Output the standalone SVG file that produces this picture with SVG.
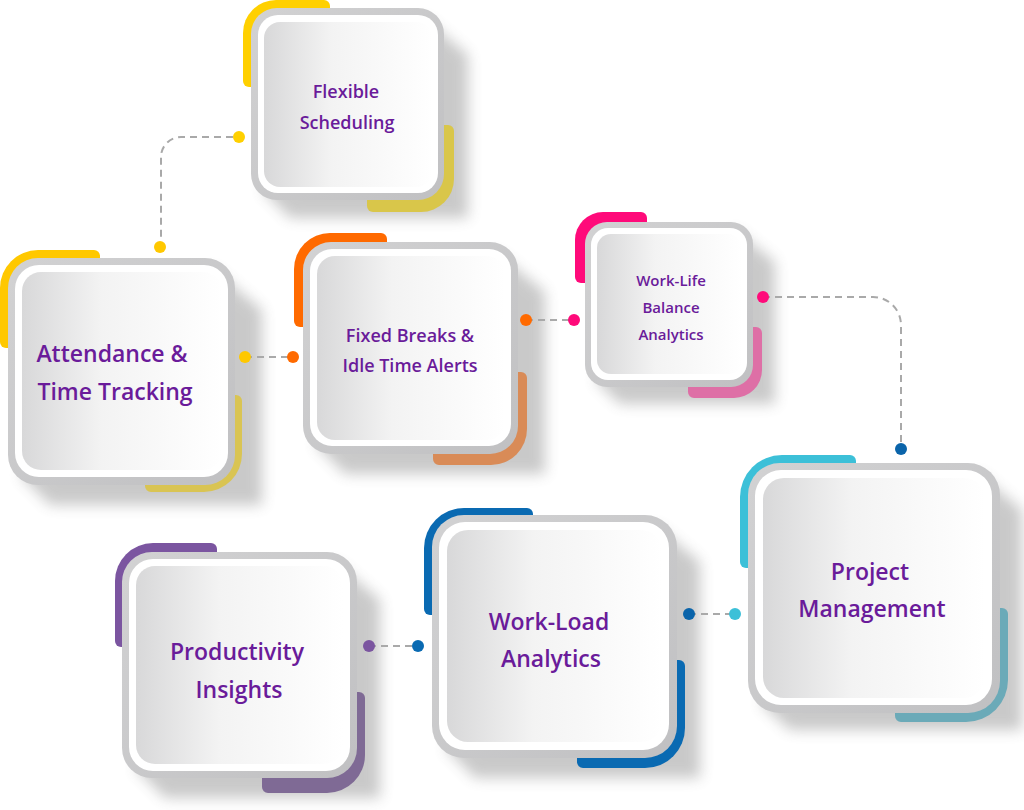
<svg xmlns="http://www.w3.org/2000/svg" width="1024" height="810" viewBox="0 0 1024 810">
<defs>
<linearGradient id="inner" x1="0" y1="0" x2="1" y2="0">
<stop offset="0" stop-color="#d8d8d9"/>
<stop offset="0.4" stop-color="#f3f3f3"/>
<stop offset="1" stop-color="#ffffff"/>
</linearGradient>
<linearGradient id="frameg" x1="0" y1="0" x2="1" y2="1">
<stop offset="0" stop-color="#d2d2d3"/>
<stop offset="1" stop-color="#c0c0c2"/>
</linearGradient>
<filter id="blur" x="-30%" y="-30%" width="160%" height="160%">
<feGaussianBlur stdDeviation="7"/>
</filter>
</defs>
<style>
.sh{fill:#5a5a5a;opacity:.32;filter:url(#blur)}
.fr{fill:url(#frameg)}
.wr{fill:#ffffff}
.in{fill:url(#inner)}
.t{font-family:"Open Sans","Noto Sans",sans-serif;font-weight:600;fill:#6a1b9a;text-anchor:middle}
.cn{fill:none;stroke:#a9a9a9;stroke-width:2;stroke-dasharray:7 5}
</style>
<rect width="1024" height="810" fill="#ffffff"/>

<!-- Node 1: Flexible Scheduling -->
<g id="node-flexible">
<path class="sh" d="M424 18 L468 55 L468 218 L290 218 L262 190 Z"/>
<path fill="#ffd000" d="M243 33 A33 33 0 0 1 276 0 H324 A6 6 0 0 1 330 6 V81 A6 6 0 0 1 324 87 H249 A6 6 0 0 1 243 81 Z"/>
<path fill="#d9c64a" d="M373 125 H448 A6 6 0 0 1 454 131 V179 A33 33 0 0 1 421 212 H373 A6 6 0 0 1 367 206 V131 A6 6 0 0 1 373 125 Z"/>
<rect class="fr" x="251" y="8" width="193" height="192" rx="26"/>
<rect class="wr" x="258" y="15" width="180" height="178" rx="20"/>
<rect class="in" x="264" y="22" width="168" height="165" rx="16"/>
<text class="t" font-size="18"><tspan x="346" y="98">Flexible</tspan><tspan x="347" y="129">Scheduling</tspan></text>
</g>

<!-- Node 2: Attendance -->
<g id="node-attendance">
<path class="sh" d="M212 268 L262 310 L262 505 L50 505 L20 475 Z"/>
<path fill="#ffc800" d="M0 288 A38 38 0 0 1 38 250 H94 A6 6 0 0 1 100 256 V342 A6 6 0 0 1 94 348 H6 A6 6 0 0 1 0 342 Z"/>
<path fill="#d9c453" d="M151 395 H236 A6 6 0 0 1 242 401 V454 A38 38 0 0 1 204 492 H151 A6 6 0 0 1 145 486 V401 A6 6 0 0 1 151 395 Z"/>
<rect class="fr" x="8" y="258" width="227" height="227" rx="30"/>
<rect class="wr" x="15" y="265" width="213" height="212" rx="24"/>
<rect class="in" x="22" y="272" width="200" height="198" rx="19"/>
<text class="t" font-size="23"><tspan x="112" y="362">Attendance &amp;</tspan><tspan x="115" y="400">Time Tracking</tspan></text>
</g>

<!-- Node 3: Fixed Breaks -->
<g id="node-fixed">
<path class="sh" d="M496 252 L545 292 L545 474 L345 474 L315 444 Z"/>
<path fill="#ff6a00" d="M294 269 A36 36 0 0 1 330 233 H381 A6 6 0 0 1 387 239 V321 A6 6 0 0 1 381 327 H300 A6 6 0 0 1 294 321 Z"/>
<path fill="#d98b57" d="M439 372 H521 A6 6 0 0 1 527 378 V429 A36 36 0 0 1 491 465 H439 A6 6 0 0 1 433 459 V378 A6 6 0 0 1 439 372 Z"/>
<rect class="fr" x="303" y="242" width="215" height="212" rx="28"/>
<rect class="wr" x="310" y="249" width="201" height="197" rx="22"/>
<rect class="in" x="317" y="256" width="188" height="184" rx="18"/>
<text class="t" font-size="18"><tspan x="410" y="342">Fixed Breaks &amp;</tspan><tspan x="410" y="372">Idle Time Alerts</tspan></text>
</g>

<!-- Node 4: Work-Life -->
<g id="node-worklife">
<path class="sh" d="M735 230 L775 262 L775 404 L620 404 L595 380 Z"/>
<path fill="#ff0a7a" d="M575 240 A28 28 0 0 1 603 212 H641 A6 6 0 0 1 647 218 V277 A6 6 0 0 1 641 283 H581 A6 6 0 0 1 575 277 Z"/>
<path fill="#de6fa6" d="M694 327 H756 A6 6 0 0 1 762 333 V370 A28 28 0 0 1 734 398 H694 A6 6 0 0 1 688 392 V333 A6 6 0 0 1 694 327 Z"/>
<rect class="fr" x="585" y="222" width="168" height="165" rx="22"/>
<rect class="wr" x="591" y="228" width="156" height="152" rx="17"/>
<rect class="in" x="597" y="234" width="145" height="140" rx="14"/>
<text class="t" font-size="15"><tspan x="671" y="286">Work-Life</tspan><tspan x="671" y="313">Balance</tspan><tspan x="671" y="340">Analytics</tspan></text>
</g>

<!-- Node 5: Project Management -->
<g id="node-project">
<path class="sh" d="M978 473 L1022 510 L1022 730 L790 730 L760 703 Z"/>
<path fill="#3cc0d8" d="M740 497 A42 42 0 0 1 782 455 H850 A6 6 0 0 1 856 461 V562 A6 6 0 0 1 850 568 H746 A6 6 0 0 1 740 562 Z"/>
<path fill="#6baab8" d="M901 608 H1002 A6 6 0 0 1 1008 614 V680 A42 42 0 0 1 966 722 H901 A6 6 0 0 1 895 716 V614 A6 6 0 0 1 901 608 Z"/>
<rect class="fr" x="748" y="463" width="252" height="250" rx="32"/>
<rect class="wr" x="755" y="470" width="237" height="235" rx="26"/>
<rect class="in" x="763" y="478" width="222" height="220" rx="21"/>
<text class="t" font-size="23"><tspan x="870" y="580">Project</tspan><tspan x="872" y="617">Management</tspan></text>
</g>

<!-- Node 6: Work-Load -->
<g id="node-workload">
<path class="sh" d="M655 525 L700 562 L700 778 L475 778 L445 748 Z"/>
<path fill="#0a6ab2" d="M424 548 A40 40 0 0 1 464 508 H527 A6 6 0 0 1 533 514 V609 A6 6 0 0 1 527 615 H430 A6 6 0 0 1 424 609 Z"/>
<path fill="#0a6ab2" d="M583 660 H679 A6 6 0 0 1 685 666 V728 A40 40 0 0 1 645 768 H583 A6 6 0 0 1 577 762 V666 A6 6 0 0 1 583 660 Z"/>
<rect class="fr" x="432" y="515" width="245" height="243" rx="32"/>
<rect class="wr" x="439" y="522" width="230" height="228" rx="26"/>
<rect class="in" x="447" y="530" width="215" height="212" rx="21"/>
<text class="t" font-size="23"><tspan x="549" y="630">Work-Load</tspan><tspan x="551" y="667">Analytics</tspan></text>
</g>

<!-- Node 7: Productivity -->
<g id="node-productivity">
<path class="sh" d="M335 562 L380 600 L380 798 L165 798 L135 768 Z"/>
<path fill="#7b55a0" d="M115 581 A38 38 0 0 1 153 543 H211 A6 6 0 0 1 217 549 V641 A6 6 0 0 1 211 647 H121 A6 6 0 0 1 115 641 Z"/>
<path fill="#7f6a95" d="M268 692 H359 A6 6 0 0 1 365 698 V755 A38 38 0 0 1 327 793 H268 A6 6 0 0 1 262 787 V698 A6 6 0 0 1 268 692 Z"/>
<rect class="fr" x="122" y="552" width="235" height="226" rx="30"/>
<rect class="wr" x="129" y="559" width="221" height="212" rx="24"/>
<rect class="in" x="136" y="566" width="207" height="198" rx="19"/>
<text class="t" font-size="23"><tspan x="237" y="660">Productivity</tspan><tspan x="239" y="698">Insights</tspan></text>
</g>

<g id="connectors">
<path class="cn" d="M233 137 H181 A20 20 0 0 0 161 157 V241"/>
<path class="cn" d="M245 357 H293"/>
<path class="cn" d="M526 320 H574"/>
<path class="cn" d="M763 297 H873 A28 28 0 0 1 901 325 V449"/>
<path class="cn" d="M689 614 H735"/>
<path class="cn" d="M369 646 H418"/>
<circle cx="239" cy="137" r="6" fill="#ffd000"/>
<circle cx="160" cy="247" r="6" fill="#ffc800"/>
<circle cx="245" cy="357" r="6" fill="#ffc800"/>
<circle cx="293" cy="357" r="6" fill="#ff6a00"/>
<circle cx="526" cy="320" r="6" fill="#ff6a00"/>
<circle cx="574" cy="320" r="6" fill="#ff0a7a"/>
<circle cx="763" cy="297" r="6" fill="#ff0a7a"/>
<circle cx="901" cy="449" r="6" fill="#0a64aa"/>
<circle cx="689" cy="614" r="6" fill="#0a64aa"/>
<circle cx="735" cy="614" r="6" fill="#3cc0d8"/>
<circle cx="369" cy="646" r="6" fill="#7b55a0"/>
<circle cx="418" cy="646" r="6" fill="#0a6ab2"/>
</g>
</svg>
